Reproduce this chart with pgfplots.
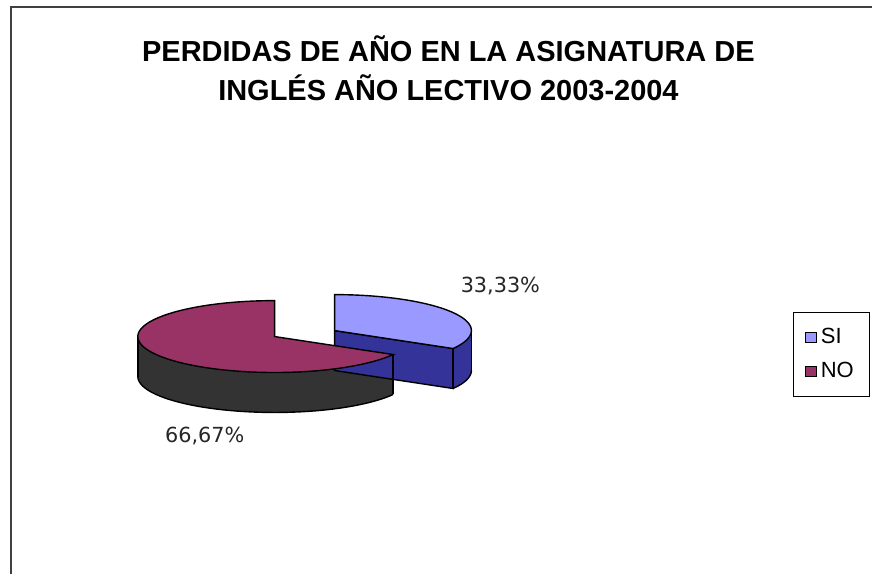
\documentclass[border=0pt]{standalone}
\usepackage{pgfplots}
\pgfplotsset{compat=1.18}
\usepgfplotslibrary{fillbetween}
\usepackage{fontspec}
\setmainfont{Liberation Sans}
\newfontfamily\labfont{DejaVu Sans}
\definecolor{siTop}{HTML}{9999FF}
\definecolor{siSide}{HTML}{333399}
\definecolor{noTop}{HTML}{993366}
\definecolor{noSide}{HTML}{333333}
\definecolor{frameGray}{HTML}{404040}

% data (percent)
\def\valSI{33.33}
\def\valNO{66.67}
\pgfmathsetmacro\angS{3.6*\valSI}       % end angle of SI (clockwise from 12 o'clock)
\pgfmathsetmacro\angE{\angS+3.6*\valNO} % end angle of NO
% geometry (pixel units)
\def\ra{137}\def\rb{36}\def\dep{40}
\def\ncx{275}\def\ncy{337}   % NO centre
\def\scx{335}\def\scy{331}   % SI centre (exploded)
\pgfmathsetmacro\sxe{\scx+\ra*sin(\angS)}
\pgfmathsetmacro\sye{\scy-\rb*cos(\angS)}
\pgfmathsetmacro\syed{\sye+\dep}
\pgfmathsetmacro\scyd{\scy+\dep}

\begin{document}
\begin{tikzpicture}
\begin{axis}[
  width=436.5pt, height=287.5pt, scale only axis,
  xmin=0, xmax=873, ymin=0, ymax=575, y dir=reverse,
  axis lines=none, ticks=none, clip=false,
  axis background/.style={fill=white},
  legend style={at={(axis cs:794,312)}, anchor=north west, draw=black, line width=0.5pt,
    font=\fontsize{11}{12}\selectfont, row sep=4pt, inner ysep=6pt, inner xsep=6pt},
  legend cell align=left,
  legend image code/.code={\draw[#1, line width=0.5pt] (0pt,-2.6pt) rectangle (5.2pt,2.6pt);},
]
\draw[frameGray, line width=1.1pt] (axis cs:11,575) -- (axis cs:11,7) -- (axis cs:873,7);

% ---------- SI slice (exploded) ----------
% cut face at end angle
\addplot[fill=siSide, draw=black, line width=0.7pt, forget plot]
  coordinates {(\scx,\scy) (\sxe,\sye) (\sxe,\syed) (\scx,\scyd) (\scx,\scy)};
% outer side 90..end
\addplot[name path=siT, draw=none, domain=90:\angS, samples=20, forget plot]
  ({\scx+\ra*sin(x)},{\scy-\rb*cos(x)});
\addplot[name path=siB, draw=none, domain=90:\angS, samples=20, forget plot]
  ({\scx+\ra*sin(x)},{\scy+\dep-\rb*cos(x)});
\addplot[fill=siSide, on layer=main, forget plot] fill between[of=siT and siB];
\addplot[draw=black, line width=0.7pt, domain=90:\angS, samples=20, forget plot]
  ({\scx+\ra*sin(x)},{\scy+\dep-\rb*cos(x)});
\addplot[draw=black, line width=0.7pt, forget plot] coordinates {(\scx+\ra,\scy) (\scx+\ra,\scy+\dep)};
\addplot[draw=black, line width=1pt, forget plot] coordinates {(\sxe,\sye) (\sxe,\syed)};
% top face
\addplot[fill=siTop, draw=black, line width=0.7pt, domain=0:\angS, samples=60, forget plot]
  ({\scx+\ra*sin(x)},{\scy-\rb*cos(x)}) -- (axis cs:\scx,\scy) -- cycle;

% ---------- NO slice ----------
\addplot[name path=noT, draw=none, domain=\angS:270, samples=50, forget plot]
  ({\ncx+\ra*sin(x)},{\ncy-\rb*cos(x)});
\addplot[name path=noB, draw=none, domain=\angS:270, samples=50, forget plot]
  ({\ncx+\ra*sin(x)},{\ncy+\dep-\rb*cos(x)});
\addplot[fill=noSide, on layer=main, forget plot] fill between[of=noT and noB];
\addplot[draw=black, line width=0.7pt, domain=\angS:270, samples=50, forget plot]
  ({\ncx+\ra*sin(x)},{\ncy+\dep-\rb*cos(x)});
\addplot[draw=black, line width=0.7pt, forget plot] coordinates {(\ncx-\ra,\ncy) (\ncx-\ra,\ncy+\dep)};
\addplot[draw=black, line width=0.7pt, forget plot] coordinates {(\sxe-\scx+\ncx,\sye-\scy+\ncy) (\sxe-\scx+\ncx,\syed-\scy+\ncy)};
\addplot[fill=noTop, draw=black, line width=0.7pt, domain=\angS:\angE, samples=100, forget plot]
  ({\ncx+\ra*sin(x)},{\ncy-\rb*cos(x)}) -- (axis cs:\ncx,\ncy) -- cycle;

% labels
\node[font=\labfont\fontsize{10.4}{12}\selectfont, text=black!85] at (axis cs:501,286) {33,33\%};
\node[font=\labfont\fontsize{10.4}{12}\selectfont, text=black!85] at (axis cs:205,437) {66,67\%};

% title
\node[align=center, font=\bfseries\fontsize{14.5}{19.5}\selectfont] at (axis cs:449,68)
  {PERDIDAS DE AÑO EN LA ASIGNATURA DE\\INGLÉS AÑO LECTIVO 2003-2004};

% legend
\addlegendimage{fill=siTop, draw=black}
\addlegendentry{SI}
\addlegendimage{fill=noTop, draw=black}
\addlegendentry{NO}
\end{axis}
\end{tikzpicture}
\end{document}
